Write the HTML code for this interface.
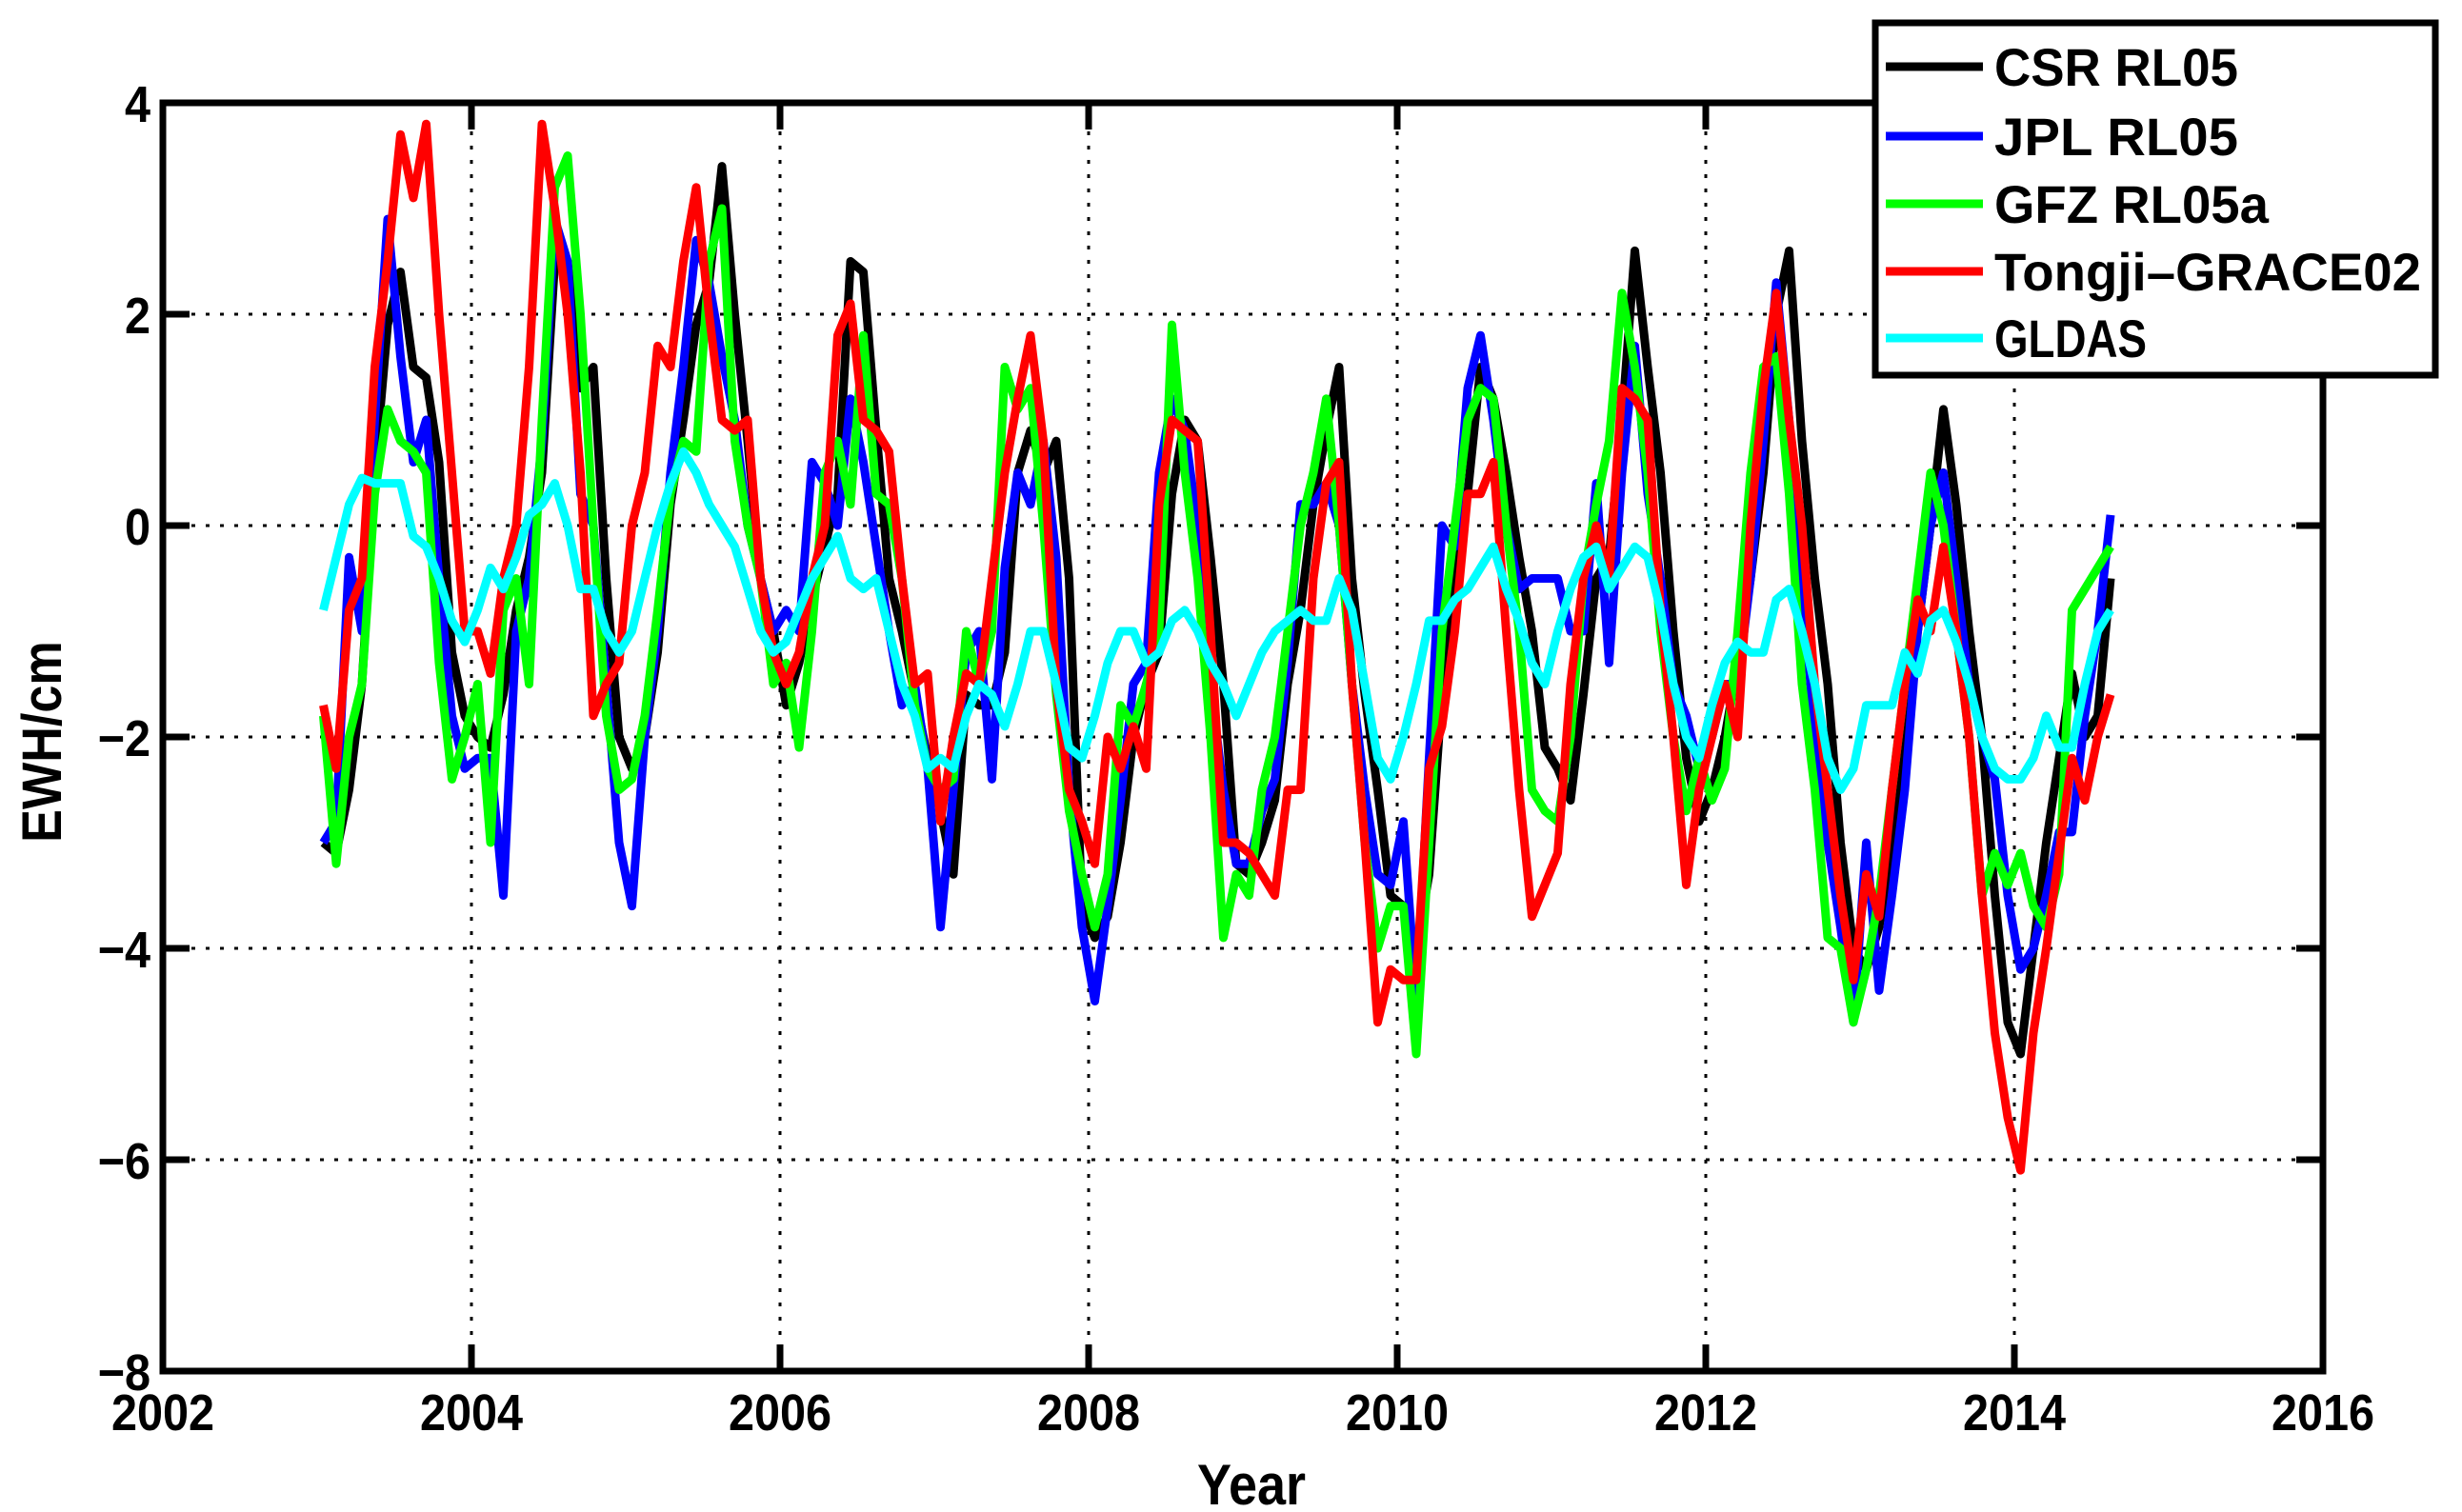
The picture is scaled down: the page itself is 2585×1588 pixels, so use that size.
<!DOCTYPE html>
<html><head><meta charset="utf-8"><style>
html,body{margin:0;padding:0;background:#fff;}
svg{display:block;}
text{font-family:"Liberation Sans",sans-serif;font-weight:bold;fill:#000;}
</style></head><body>
<svg id="chart" width="2585" height="1588" viewBox="0 0 2585 1588" xmlns="http://www.w3.org/2000/svg">
<rect x="0" y="0" width="2585" height="1588" fill="#fff"/>
<g id="grid"></g>
<g id="series"></g>
<g id="axes"></g>
<text x="0" y="0" font-size="58" text-anchor="middle" transform="translate(64,779) rotate(-90) scale(0.9,1)">EWH/cm</text>
<text x="0" y="0" font-size="60" text-anchor="middle" transform="translate(1314,1580) scale(0.9,1)">Year</text>
<g id="legend"></g>
</svg>
<script>
const xTicks = [2002,2004,2006,2008,2010,2012,2014,2016];
const yTicks = [4,2,0,-2,-4,-6,-8];
const startYear = 2003.04;
const seriesNames = ["CSR RL05","JPL RL05","GFZ RL05a","Tongji\u2013GRACE02","GLDAS"];
const seriesColors = ["#000000","#0000ff","#00ff00","#ff0000","#00ffff"];
const csr = [-3.0,-3.1,-2.5,-1.5,0.5,1.9,2.4,1.5,1.4,0.6,-1.2,-1.8,
 -2.0,-2.1,-1.6,-0.8,-0.3,0.5,2.5,2.5,1.3,1.5,-0.5,-2.0,
 -2.3,-2.0,-1.2,0.2,1.0,1.9,2.3,3.4,2.0,0.8,-0.5,-1.0,
 -1.7,-1.3,-0.7,-0.2,0.3,2.5,2.4,0.9,-0.5,-1.0,-1.6,-2.2,
 -2.7,-3.3,-1.6,-1.7,-1.7,-1.2,0.5,0.9,0.5,0.8,-0.5,-3.6,
 -3.9,-3.7,-3.0,-2.0,-1.5,-1.2,0.3,1.0,0.8,-0.3,-1.5,-3.2,
 -3.3,-3.0,-2.6,-1.5,-0.8,0.2,0.9,1.5,-0.5,-1.6,-2.5,-3.5,
 -3.6,-4.0,-3.3,-1.6,-0.5,0.3,1.5,1.2,0.5,-0.3,-1.0,-2.1,
 -2.3,-2.6,-1.6,-0.5,-0.3,1.0,2.6,1.5,0.5,-1.0,-2.2,-2.8,
 -2.5,-2.0,-1.3,-0.5,0.5,2.0,2.6,0.8,-0.5,-1.5,-3.0,-4.0,
 -4.2,-3.8,-3.0,-1.8,-1.0,0.0,1.1,0.2,-1.0,-2.0,-3.5,-4.7,
 -5.0,-4.0,-3.0,-2.2,-1.4,-2.0,-1.8,-0.5];
const jpl = [-3.0,-2.8,-0.3,-1.0,1.0,2.9,1.6,0.6,1.0,-0.5,-1.8,-2.3,
 -2.2,-2.2,-3.5,-1.0,-0.5,0.8,2.9,2.5,0.3,0.0,-1.5,-3.0,
 -3.6,-2.0,-1.0,0.5,1.5,2.7,2.3,1.6,1.0,0.0,-0.5,-1.0,
 -0.8,-1.0,0.6,0.4,0.0,1.2,0.6,-0.2,-1.0,-1.7,-1.5,-2.3,
 -3.8,-2.5,-1.2,-1.0,-2.4,-0.4,0.5,0.2,0.8,-0.3,-2.5,-3.8,
 -4.5,-3.6,-2.6,-1.5,-1.3,0.5,1.2,0.9,0.0,-1.5,-2.5,-3.2,
 -3.2,-2.7,-2.4,-1.3,0.2,0.2,0.4,0.0,-1.5,-2.5,-3.3,-3.4,
 -2.8,-4.5,-2.2,0.0,-0.2,1.3,1.8,1.0,0.0,-0.6,-0.5,-0.5,
 -0.5,-1.0,-1.0,0.4,-1.3,0.5,1.7,0.3,-0.5,-1.5,-1.8,-2.3,
 -2.0,-1.5,-1.5,-0.5,0.8,2.3,1.0,-0.5,-2.0,-3.0,-3.8,-4.7,
 -3.0,-4.4,-3.5,-2.5,-1.0,0.0,0.5,-0.5,-1.5,-2.0,-2.4,-3.5,
 -4.2,-4.0,-3.5,-2.9,-2.9,-1.8,-1.0,0.1];
const gfz = [-1.8,-3.2,-2.0,-1.5,0.3,1.1,0.8,0.7,0.5,-1.3,-2.4,-2.0,
 -1.5,-3.0,-0.8,-0.5,-1.5,1.0,3.2,3.5,2.0,0.0,-1.8,-2.5,
 -2.4,-1.8,-0.8,0.3,0.8,0.7,2.5,3.0,0.8,0.0,-0.5,-1.5,
 -1.3,-2.1,-1.0,0.5,0.8,0.2,1.8,0.3,0.2,-0.5,-1.7,-2.3,
 -2.5,-2.4,-1.0,-1.5,-1.0,1.5,1.1,1.3,0.0,-1.6,-2.7,-3.3,
 -3.8,-3.3,-1.7,-1.9,-1.5,-1.0,1.9,0.5,-0.5,-2.0,-3.9,-3.3,
 -3.5,-2.5,-2.0,-1.0,0.0,0.5,1.2,0.0,-1.5,-3.0,-4.0,-3.6,
 -3.6,-5.0,-3.0,-1.0,0.0,1.0,1.3,1.2,0.0,-1.0,-2.5,-2.7,
 -2.8,-2.0,-0.5,0.2,0.8,2.2,1.5,0.5,-1.0,-2.0,-2.7,-2.2,
 -2.6,-2.3,-1.0,0.5,1.5,1.6,0.3,-1.5,-2.5,-3.9,-4.0,-4.7,
 -4.2,-3.5,-2.5,-1.5,-0.5,0.5,0.0,-1.0,-2.0,-3.5,-3.1,-3.4,
 -3.1,-3.6,-3.8,-3.3,-0.8,-0.6,-0.4,-0.2];
const tongji = [-1.7,-2.3,-0.8,-0.5,1.5,2.5,3.7,3.1,3.8,2.0,0.5,-1.0,
 -1.0,-1.4,-0.5,0.0,1.5,3.8,3.0,2.0,0.5,-1.8,-1.5,-1.3,
 0.0,0.5,1.7,1.5,2.5,3.2,2.0,1.0,0.9,1.0,-0.5,-1.2,
 -1.5,-1.2,-0.5,0.0,1.8,2.1,1.0,0.9,0.7,-0.5,-1.5,-1.4,
 -2.8,-2.0,-1.4,-1.5,-0.5,0.5,1.2,1.8,0.8,-1.5,-2.5,-2.8,
 -3.2,-2.0,-2.3,-1.9,-2.3,0.2,1.0,0.9,0.8,-1.0,-3.0,-3.0,
 -3.1,-3.3,-3.5,-2.5,-2.5,-0.5,0.4,0.6,-1.5,-3.0,-4.7,-4.2,
 -4.3,-4.3,-2.3,-1.9,-1.0,0.3,0.3,0.6,-1.0,-2.5,-3.7,-3.4,
 -3.1,-1.5,-0.5,0.0,-0.5,1.3,1.2,1.0,-0.8,-2.0,-3.4,-2.5,
 -2.0,-1.5,-2.0,0.0,1.3,2.2,1.0,0.0,-1.5,-2.5,-3.5,-4.3,
 -3.3,-3.7,-2.5,-1.5,-0.7,-1.0,-0.2,-1.0,-2.0,-3.5,-4.8,-5.6,
 -6.1,-4.8,-4.0,-3.1,-2.2,-2.6,-2.0,-1.6];
const gldas = [-0.8,-0.3,0.2,0.45,0.4,0.4,0.4,-0.1,-0.2,-0.5,-0.9,-1.1,
 -0.8,-0.4,-0.6,-0.3,0.1,0.2,0.4,0.0,-0.6,-0.6,-1.0,-1.2,
 -1.0,-0.5,0.0,0.4,0.7,0.5,0.2,0.0,-0.2,-0.6,-1.0,-1.2,
 -1.1,-0.8,-0.5,-0.3,-0.1,-0.5,-0.6,-0.5,-1.0,-1.5,-1.8,-2.3,
 -2.2,-2.3,-1.8,-1.5,-1.6,-1.9,-1.5,-1.0,-1.0,-1.5,-2.1,-2.2,
 -1.8,-1.3,-1.0,-1.0,-1.3,-1.2,-0.9,-0.8,-1.0,-1.3,-1.5,-1.8,
 -1.5,-1.2,-1.0,-0.9,-0.8,-0.9,-0.9,-0.5,-0.8,-1.5,-2.2,-2.4,
 -2.0,-1.5,-0.9,-0.9,-0.7,-0.6,-0.4,-0.2,-0.6,-0.9,-1.3,-1.5,
 -1.0,-0.6,-0.3,-0.2,-0.6,-0.4,-0.2,-0.3,-0.8,-1.5,-2.0,-2.2,
 -1.7,-1.3,-1.1,-1.2,-1.2,-0.7,-0.6,-1.0,-1.5,-2.2,-2.5,-2.3,
 -1.7,-1.7,-1.7,-1.2,-1.4,-0.9,-0.8,-1.1,-1.5,-2.0,-2.3,-2.4,
 -2.4,-2.2,-1.8,-2.1,-2.1,-1.5,-1.0,-0.8];

const NS="http://www.w3.org/2000/svg";
const L=171,R=2439,T=108,B=1440;
const xMin=2002,xMax=2016,yMin=-8,yMax=4;
function sx(v){return L+(v-xMin)/(xMax-xMin)*(R-L);}
function sy(v){return T+(yMax-v)/(yMax-yMin)*(B-T);}
function mk(tag,attrs,parent){const e=document.createElementNS(NS,tag);for(const k in attrs)e.setAttribute(k,attrs[k]);parent.appendChild(e);return e;}
const grid=document.getElementById('grid'),axes=document.getElementById('axes'),ser=document.getElementById('series'),leg=document.getElementById('legend');

xTicks.forEach(v=>{
  const x=sx(v);
  if(v>xMin&&v<xMax){
    const g=mk('line',{x1:x,y1:T,x2:x,y2:B,stroke:'#000','stroke-width':3,'stroke-dasharray':'4 11'},grid);
    
    
  }
  const t1=mk('line',{x1:x,y1:B,x2:x,y2:B-28,stroke:'#000','stroke-width':7},axes);
  
  
  const t2=mk('line',{x1:x,y1:T,x2:x,y2:T+28,stroke:'#000','stroke-width':7},axes);
  
  
  const lb=mk('text',{x:0,y:0,'font-size':54,'text-anchor':'middle',transform:'translate('+x+',1502) scale(0.9,1)'},axes);
  lb.textContent=v;
  
  
});
yTicks.forEach(v=>{
  const y=sy(v);
  if(v>yMin&&v<yMax){
    const g=mk('line',{x1:L,y1:y,x2:R,y2:y,stroke:'#000','stroke-width':3,'stroke-dasharray':'4 11'},grid);
    
    
  }
  const t1=mk('line',{x1:L,y1:y,x2:L+28,y2:y,stroke:'#000','stroke-width':7},axes);
  
  
  const t2=mk('line',{x1:R,y1:y,x2:R-28,y2:y,stroke:'#000','stroke-width':7},axes);
  
  
  const lb=mk('text',{x:0,y:0,'font-size':54,'text-anchor':'end',transform:'translate(158,'+(y+20)+') scale(0.9,1)'},axes);
  lb.textContent=(v<0?'\u2212'+(-v):String(v));
  
  
});
const frame=mk('rect',{x:L,y:T,width:R-L,height:B-T,fill:'none',stroke:'#000','stroke-width':7},axes);



const allSeries=[csr,jpl,gfz,tongji,gldas];
const seriesKeys=['csr','jpl','gfz','tongji','gldas'];
allSeries.forEach((vals,i)=>{
  const pts=vals.map((v,j)=>sx(startYear+j/12).toFixed(1)+','+sy(v).toFixed(1)).join(' ');
  const p=mk('polyline',{points:pts,fill:'none',stroke:seriesColors[i],'stroke-width':9,'stroke-linejoin':'round'},ser);
  
  
});

const box=mk('rect',{x:1969,y:24,width:588,height:370,fill:'#fff',stroke:'#000','stroke-width':7},leg);


const rowY=[70,143,214,285,355];
seriesNames.forEach((n,i)=>{
  const g=mk('g',{},leg);
  
  
  mk('line',{x1:1980,y1:rowY[i],x2:2082,y2:rowY[i],stroke:seriesColors[i],'stroke-width':9},g);
  const t=mk('text',{x:2094,y:rowY[i]+20,'font-size':56,textLength:(n.length*32).toString(),lengthAdjust:'spacingAndGlyphs'},g);
  t.textContent=n;
});
</script>
</body></html>
